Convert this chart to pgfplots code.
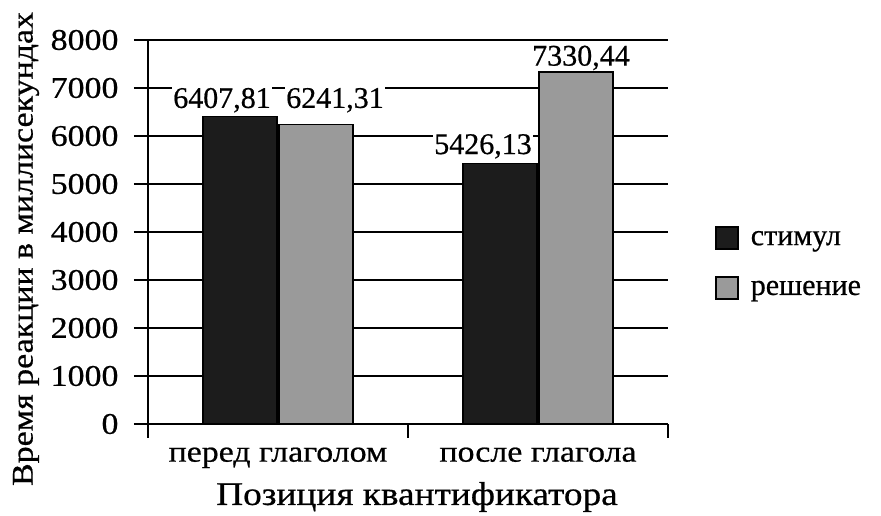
\documentclass[border=0pt]{standalone}
\usepackage{pgfplots}
\pgfplotsset{compat=1.18}
\usepackage{pgfplotstable}
\usepackage{fontspec}
\setmainfont{Liberation Serif}[FakeStretch=1.13, FakeBold=0.6]
\newfontfamily\plainf{Liberation Serif}[FakeBold=0.6]
\definecolor{darkbar}{HTML}{1C1C1C}
\definecolor{graybar}{HTML}{9A9A9A}
\pgfplotstableread{
x y lbl dx dy
0 6407.81 6407,81 -18 2
1 5426.13 5426,13 -17 3
}\stim
\pgfplotstableread{
x y lbl dx dy
0 6241.31 6241,31 19 10
1 7330.44 7330,44 5 0
}\resh
\begin{document}
\begin{tikzpicture}[font=\fontsize{30bp}{36bp}\selectfont]
\begin{axis}[
  scale only axis,
  width=520bp, height=384bp,
  ybar, bar width=74bp,
  xmin=-0.5, xmax=1.5,
  ymin=0, ymax=8000,
  ytick={0,1000,...,8000},
  xtick={-0.5,0.5,1.5},
  xticklabels={},
  extra x ticks={0,1},
  extra x tick labels={перед глаголом, после глагола},
  extra x tick style={major tick length=0bp, tick label style={yshift=-20bp}},
  axis x line*=bottom, axis y line*=left,
  axis line style={line width=1.8bp, -},
  tick style={line width=1.8bp, black},
  tick align=outside,
  major tick length=14bp,
  ymajorgrids,
  grid style={line width=1.8bp, black},
  /pgf/number format/assume math mode=true,
  /pgf/number format/1000 sep={},
  yticklabel style={xshift=-12bp},
  xlabel={Позиция квантификатора},
  xlabel style={at={(axis description cs:0.5,0)}, anchor=center, yshift=-73bp, xshift=9bp, font=\fontsize{33bp}{38bp}\selectfont},
  legend style={at={(1.09,0.42)}, anchor=west, draw=none, fill=none,
    row sep=26bp, inner sep=0pt, font=\plainf\fontsize{30bp}{36bp}\selectfont},
  legend cell align=left,
  legend image code/.code={\draw[#1, line width=1.8bp] (0bp,-10bp) rectangle (22bp,12bp); \path (32bp,0bp);},
  nodes near coords,
  point meta=explicit symbolic,
  visualization depends on={\thisrow{dx} \as \mydx},
  visualization depends on={\thisrow{dy} \as \mydy},
  every node near coord/.append style={xshift=\mydx bp, yshift=\mydy bp, fill=white, inner sep=1bp, font=\plainf\fontsize{30bp}{36bp}\selectfont},
]
\addplot[fill=darkbar, draw=black, line width=1.8bp] table[x=x,y=y,meta=lbl] {\stim};
\addplot[fill=graybar, draw=black, line width=1.8bp] table[x=x,y=y,meta=lbl] {\resh};
\legend{стимул, решение}
\end{axis}
\node[rotate=90] at ([shift={(-122bp,175bp)}]current axis.south west) {Время реакции в миллисекундах};
\useasboundingbox ([shift={(-148bp,-91bp)}]current axis.south west) rectangle ++(881bp,515bp);
\end{tikzpicture}
\end{document}
